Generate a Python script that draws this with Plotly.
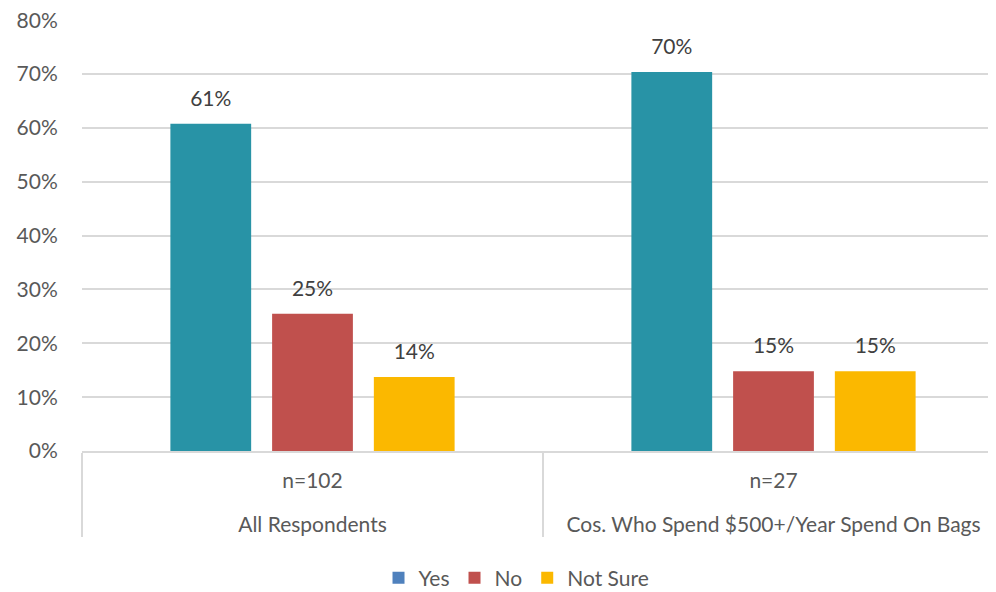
import plotly.graph_objects as go

groups = ["All Respondents", "Cos. Who Spend $500+/Year Spend On Bags"]
sample_sizes = ["n=102", "n=27"]
series = ["Yes", "No", "Not Sure"]
values = {
    "Yes": [62/102, 19/27],
    "No": [26/102, 4/27],
    "Not Sure": [14/102, 4/27],
}
bar_colors = {"Yes": "#2893A6", "No": "#C0504D", "Not Sure": "#FBB800"}
legend_colors = {"Yes": "#4F81BD", "No": "#C0504D", "Not Sure": "#FBB800"}
y_ticks = [0, 0.1, 0.2, 0.3, 0.4, 0.5, 0.6, 0.7, 0.8]

FONT = "Lato"
FS = 21
inner = [s + "<br> " for s in sample_sizes]

fig = go.Figure()
for s in series:
    fig.add_trace(go.Bar(
        x=[groups, inner], y=values[s], name=s,
        marker=dict(color=bar_colors[s], line=dict(width=0)),
        showlegend=False, hoverinfo="skip",
    ))
for s in series:
    fig.add_trace(go.Scatter(
        x=[groups, inner], y=values[s], name=s, mode="markers+text",
        marker=dict(size=19, color="rgba(0,0,0,0)"),
        text=[f"{v:.0%}" for v in values[s]], textposition="top center",
        textfont=dict(family=FONT, size=FS, color="#404040"),
        cliponaxis=False, showlegend=False, hoverinfo="skip",
    ))
for s in series:
    fig.add_trace(go.Bar(
        x=[None], y=[None], name=s, xaxis="x2", yaxis="y2",
        marker=dict(color=legend_colors[s], line=dict(width=0)),
    ))

fig.update_layout(
    width=996, height=592,
    margin=dict(l=74, r=0, t=12, b=149),
    paper_bgcolor="white", plot_bgcolor="white",
    barmode="group", bargap=0.338, bargroupgap=0.206,
    scattermode="group", scattergap=0.338,
    font=dict(family=FONT, size=FS, color="#595959"),
    xaxis=dict(
        type="multicategory", showgrid=False, automargin=False,
        showline=True, linecolor="#D9D9D9", linewidth=1.5,
        showdividers=True, dividercolor="#D9D9D9", dividerwidth=1.5,
        ticks="", ticklabelstandoff=10,
        tickfont=dict(family=FONT, size=FS, color="#595959"),
    ),
    yaxis=dict(
        range=[0, 0.8005], tickvals=y_ticks, tickformat=".0%", automargin=False,
        showgrid=True, gridcolor="#D9D9D9", gridwidth=1.5,
        zeroline=False, showline=False, ticklabeloverflow="allow",
        ticks="outside", ticklen=19, tickcolor="rgba(0,0,0,0)",
        tickfont=dict(family=FONT, size=FS, color="#595959"),
    ),
    xaxis2=dict(visible=False, overlaying="x"),
    yaxis2=dict(visible=False, overlaying="y"),
    legend=dict(
        orientation="h", x=0.372, xanchor="left", xref="container",
        y=0.0372, yanchor="middle", yref="container",
        font=dict(family=FONT, size=FS, color="#595959"),
        itemwidth=30, traceorder="normal",
    ),
)
fig.write_html("out.html")
